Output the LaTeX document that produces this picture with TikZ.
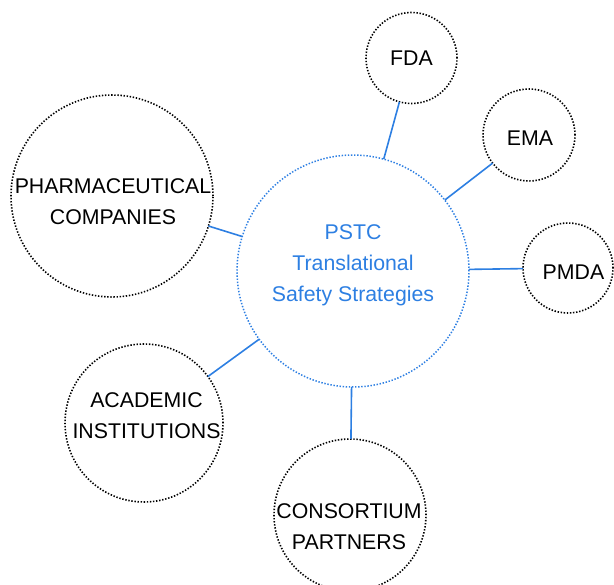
\documentclass[tikz,border=0pt]{standalone}
\usepackage{fontspec}
\setmainfont{Liberation Sans}
\definecolor{pblue}{RGB}{45,127,226}
\begin{document}
\begin{tikzpicture}[x=1pt,y=-1pt,
  sat/.style={circle,draw=black,line width=1.6pt,dash pattern=on 1.4pt off 1.7pt,inner sep=0pt,outer sep=0pt},
  hub/.style={circle,draw=pblue,line width=1.5pt,dash pattern=on 1.4pt off 1.7pt,inner sep=0pt,outer sep=0pt},
  lbl/.style={align=center,inner sep=0pt,font=\fontsize{21.3}{31}\selectfont},
  link/.style={draw=pblue,line width=1.6pt}]
\useasboundingbox (0,0) rectangle (614,585);
\node[hub,minimum size=232pt] (c) at (353,271) {};
\node[sat,minimum size=91pt] (fda) at (411.5,58) {};
\node[sat,minimum size=92pt] (ema) at (529,135) {};
\node[sat,minimum size=90pt] (pmda) at (568,268) {};
\node[sat,minimum size=202pt] (ph) at (112,196) {};
\node[sat,minimum size=158pt] (ac) at (144,423) {};
\node[sat,minimum size=152pt] (co) at (350,515) {};
\node[lbl,text=pblue] (ct) at (353,265) {PSTC\\Translational\\Safety Strategies};
\node[lbl] (fdat) at (411.5,58) {FDA};
\node[lbl] (emat) at (530,138) {EMA};
\node[lbl] (pmdat) at (573.5,272) {PMDA};
\node[lbl] (pht) at (113,202) {PHARMACEUTICAL\\COMPANIES};
\node[lbl] (act) at (146.5,416) {ACADEMIC\\INSTITUTIONS};
\node[lbl] (cot) at (349,527) {CONSORTIUM\\PARTNERS};
\draw[link] (c) -- (fda);
\draw[link] (c) -- (ema);
\draw[link] (c) -- (pmda);
\draw[link] (c) -- (ph);
\draw[link] (c) -- (ac);
\draw[link] (c) -- (co);
\end{tikzpicture}
\end{document}
